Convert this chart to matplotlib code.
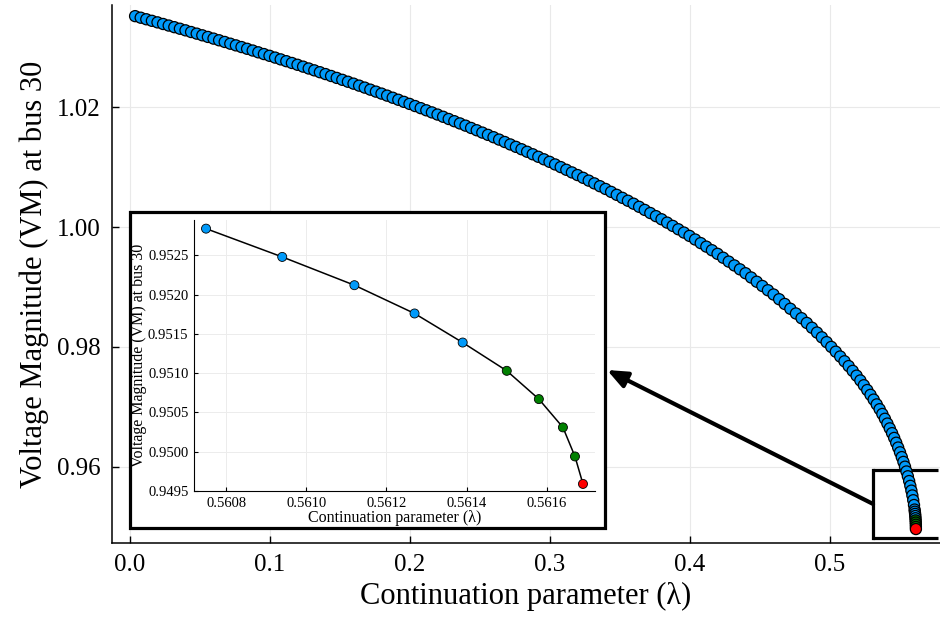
import matplotlib
matplotlib.use("Agg")
import matplotlib.pyplot as plt
from matplotlib.patches import Rectangle

# continuation trace, upper (flat) part of the PV curve
lam_flat = [
    0.004, 0.008, 0.012, 0.016, 0.020, 0.024, 0.028, 0.032, 0.036, 0.040,
    0.044, 0.048, 0.052, 0.056, 0.060, 0.064, 0.068, 0.072, 0.076, 0.080,
    0.084, 0.088, 0.092, 0.096, 0.100, 0.104, 0.108, 0.112, 0.116, 0.120,
    0.124, 0.128, 0.132, 0.136, 0.140, 0.144, 0.148, 0.152, 0.156, 0.160,
    0.164, 0.168, 0.172, 0.176, 0.180, 0.184, 0.188, 0.192, 0.196, 0.200,
    0.204, 0.208, 0.212, 0.216, 0.220, 0.224, 0.228, 0.232, 0.236, 0.240,
    0.244, 0.248, 0.252, 0.256, 0.260, 0.264, 0.268, 0.272, 0.276, 0.280,
    0.284, 0.288, 0.292, 0.296, 0.300, 0.304, 0.308, 0.312, 0.316, 0.320,
    0.324, 0.328, 0.332, 0.336, 0.340, 0.344, 0.348, 0.352, 0.356, 0.360,
    0.364, 0.368, 0.372, 0.376, 0.380, 0.384, 0.388, 0.392, 0.396, 0.400,
    0.404, 0.408, 0.412, 0.416, 0.420, 0.424, 0.428, 0.432, 0.436, 0.440,
    0.444, 0.448, 0.452, 0.456, 0.460, 0.464, 0.468, 0.472, 0.476, 0.480,
]
v_flat = [
    1.03522, 1.03496, 1.03470, 1.03444, 1.03418, 1.03391, 1.03365, 1.03338, 1.03312, 1.03285,
    1.03257, 1.03230, 1.03202, 1.03175, 1.03147, 1.03119, 1.03091, 1.03062, 1.03034, 1.03006,
    1.02977, 1.02948, 1.02918, 1.02889, 1.02860, 1.02830, 1.02800, 1.02770, 1.02740, 1.02710,
    1.02679, 1.02648, 1.02617, 1.02586, 1.02555, 1.02523, 1.02491, 1.02459, 1.02427, 1.02395,
    1.02362, 1.02329, 1.02295, 1.02262, 1.02229, 1.02195, 1.02160, 1.02126, 1.02091, 1.02057,
    1.02021, 1.01986, 1.01950, 1.01915, 1.01879, 1.01842, 1.01805, 1.01768, 1.01731, 1.01694,
    1.01655, 1.01617, 1.01578, 1.01540, 1.01501, 1.01461, 1.01421, 1.01380, 1.01340, 1.01300,
    1.01258, 1.01216, 1.01174, 1.01132, 1.01090, 1.01046, 1.01002, 1.00957, 1.00913, 1.00869,
    1.00823, 1.00776, 1.00730, 1.00683, 1.00637, 1.00588, 1.00539, 1.00489, 1.00440, 1.00391,
    1.00339, 1.00287, 1.00235, 1.00183, 1.00131, 1.00075, 1.00020, 0.99964, 0.99909, 0.99853,
    0.99793, 0.99733, 0.99674, 0.99614, 0.99554, 0.99489, 0.99424, 0.99360, 0.99295, 0.99230,
    0.99159, 0.99088, 0.99017, 0.98946, 0.98875, 0.98796, 0.98717, 0.98637, 0.98558, 0.98479,
]

# steep part towards the nose
lam_steep = [
    0.48377, 0.48745, 0.49104, 0.49452, 0.49793, 0.50123, 0.50446, 0.50762, 0.51069, 0.51367,
    0.51654, 0.51932, 0.52201, 0.52451, 0.52693, 0.52927, 0.53152, 0.53370, 0.53579, 0.53772,
    0.53955, 0.54132, 0.54302, 0.54466, 0.54618, 0.54762, 0.54901, 0.55033, 0.55160, 0.55278,
    0.55390, 0.55496, 0.55595, 0.55687, 0.55771, 0.55847, 0.55917, 0.55979, 0.56033,
]
v_steep = [
    0.9840, 0.9832, 0.9824, 0.9816, 0.9808, 0.9800, 0.9792, 0.9784, 0.9776, 0.9768,
    0.9760, 0.9752, 0.9744, 0.9736, 0.9728, 0.9720, 0.9712, 0.9704, 0.9696, 0.9688,
    0.9680, 0.9672, 0.9664, 0.9656, 0.9648, 0.9640, 0.9632, 0.9624, 0.9616, 0.9608,
    0.9600, 0.9592, 0.9584, 0.9576, 0.9568, 0.9560, 0.9552, 0.9544, 0.9536,
]

# last ten steps (shown in the zoom)
lam_zoom = [0.56075, 0.56094, 0.56112, 0.56127, 0.56139,
            0.56150, 0.56158, 0.56164, 0.56167, 0.56169]
v_zoom = [0.95284, 0.95248, 0.95212, 0.95176, 0.95139,
          0.95103, 0.95067, 0.95031, 0.94994, 0.94959]
zoom_kind = ["normal"] * 5 + ["reduced"] * 4 + ["last"]

main_xticks = [0.0, 0.1, 0.2, 0.3, 0.4, 0.5]
main_yticks = [0.96, 0.98, 1.00, 1.02]
zoom_xticks = [0.5608, 0.5610, 0.5612, 0.5614, 0.5616]
zoom_yticks = [0.9495, 0.9500, 0.9505, 0.9510, 0.9515, 0.9520, 0.9525]

xlabel = "Continuation parameter (λ)"
ylabel = "Voltage Magnitude (VM) at bus 30"

kind_color = {"normal": "#009AFA", "reduced": "#008000", "last": "#FF0000"}

lam_all = lam_flat + lam_steep + lam_zoom
v_all = v_flat + v_steep + v_zoom
kind_all = ["normal"] * (len(lam_flat) + len(lam_steep)) + zoom_kind
col_all = [kind_color[k] for k in kind_all]
col_zoom = [kind_color[k] for k in zoom_kind]

plt.rcParams['font.family'] = ['Liberation Serif', 'DejaVu Serif']

W, H = 940, 620
fig = plt.figure(figsize=(W / 100, H / 100), dpi=100)

# main axes
ax = fig.add_axes([112 / W, 77 / H, 828 / W, 538 / H])
ax.set_xlim(-0.0125, 0.5789)
ax.set_ylim(0.94726, 1.03708)
for s in ("top", "right"):
    ax.spines[s].set_visible(False)
for s in ("left", "bottom"):
    ax.spines[s].set_linewidth(1.1)
ax.set_xticks(main_xticks)
ax.set_yticks(main_yticks)
ax.set_xticklabels(["%.1f" % t for t in main_xticks])
ax.set_yticklabels(["%.2f" % t for t in main_yticks])
ax.tick_params(direction="in", length=5, width=1, labelsize=18, pad=8)
ax.grid(True, color="#e9e9e9", lw=0.8)
ax.set_axisbelow(True)
ax.set_xlabel(xlabel, fontsize=22, labelpad=4)
ax.set_ylabel(ylabel, fontsize=22, labelpad=6)

ax.plot(lam_all, v_all, color="black", lw=1, zorder=2)
ax.scatter(lam_all, v_all, s=8 ** 2, c=col_all, edgecolors="black",
           linewidths=0.9, zorder=3)

# lens box around the zoomed region (its right side lies past the axes)
lens_x0 = 0.5311
lens_y0, lens_y1 = 0.9481, 0.95945
xl0, xl1 = ax.get_xlim()
lens_frac = (lens_x0 - xl0) / (xl1 - xl0)
for yy in (lens_y0, lens_y1):
    ax.axhline(yy, xmin=lens_frac, xmax=0.997, color="black", lw=2.3,
               solid_capstyle="butt", zorder=2.5)
ax.plot([lens_x0, lens_x0], [lens_y0, lens_y1], color="black", lw=2.3,
        solid_capstyle="projecting", zorder=2.5)

# frame of the inset
fx0, fy0, fw, fh = 130 / W, 92 / H, 475 / W, 316 / H
frame = Rectangle((fx0, fy0), fw, fh, transform=fig.transFigure,
                  facecolor="white", edgecolor="black", lw=2.3, zorder=1)
fig.add_artist(frame)

ax.annotate("", xy=(fx0 + fw + 2 / W, fy0 + fh / 2), xycoords="figure fraction",
            xytext=(lens_x0, (lens_y0 + lens_y1) / 2), textcoords="data",
            arrowprops=dict(arrowstyle="-|>,head_length=0.6,head_width=0.25",
                            lw=3, color="black", mutation_scale=20,
                            shrinkA=0, shrinkB=0),
            annotation_clip=False, zorder=4)

# inset
axi = fig.add_axes([194 / W, 129 / H, 401 / W, 271 / H], zorder=2)
axi.set_xlim(0.56072, 0.56172)
axi.set_ylim(0.94950, 0.95295)
for s in ("top", "right"):
    axi.spines[s].set_visible(False)
axi.set_xticks(zoom_xticks)
axi.set_yticks(zoom_yticks)
axi.set_xticklabels(["%.4f" % t for t in zoom_xticks])
axi.set_yticklabels(["%.4f" % t for t in zoom_yticks])
axi.tick_params(direction="in", length=3, width=0.8, labelsize=10.5, pad=4)
axi.grid(True, color="#ececec", lw=0.7)
axi.set_axisbelow(True)
axi.set_xlabel(xlabel, fontsize=11.5, labelpad=0)
axi.set_ylabel(ylabel, fontsize=11.5, labelpad=1)
axi.plot(lam_zoom, v_zoom, color="black", lw=1.1, zorder=2)
axi.scatter(lam_zoom, v_zoom, s=6.5 ** 2, c=col_zoom, edgecolors="black",
            linewidths=0.6, zorder=3, clip_on=False)

fig.savefig("out.png", dpi=100)
